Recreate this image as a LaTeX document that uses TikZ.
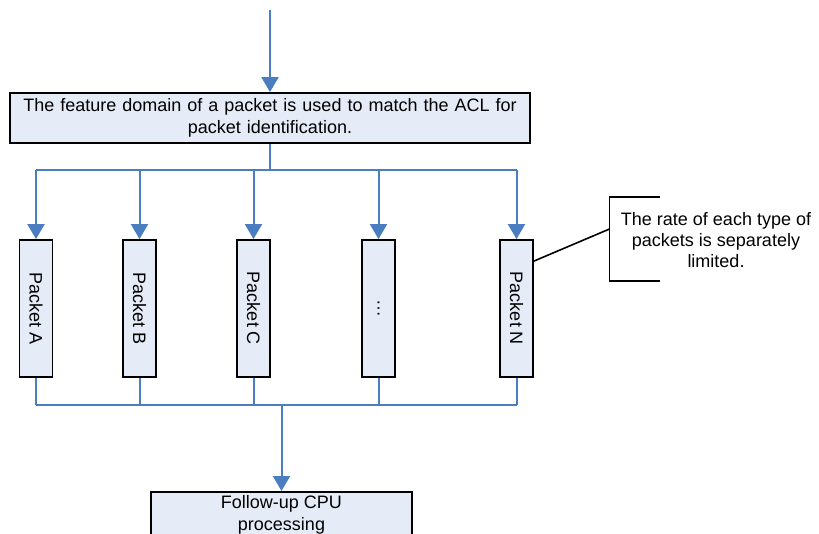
\documentclass[tikz,border=0pt]{standalone}
\usepackage{fontspec}
\setmainfont{Liberation Sans}
\usetikzlibrary{arrows.meta}
\definecolor{flowblue}{RGB}{74,126,193}
\definecolor{boxfill}{RGB}{230,236,247}
\begin{document}
\begin{tikzpicture}[x=1pt,y=-1pt,
  font=\fontsize{18}{22.5}\selectfont,
  box/.style={draw=black,line width=1.8pt,fill=boxfill,inner sep=0pt,align=center},
  pkt/.style={box,minimum width=33pt,minimum height=137pt},
  flow/.style={draw=flowblue,line width=2pt},
  arr/.style={flow,-{Triangle[length=15pt,width=17pt]}},
  callout/.style={draw=black,line width=1.6pt}]
\useasboundingbox (0,0) rectangle (819,534);

% ACL matching stage
\coordinate (src) at (270,10);
\node[box,minimum width=520pt,minimum height=50pt,text width=515pt] (acl) at (270,118)
  {The feature domain of a packet is used to match the ACL for\\packet identification.};
\draw[arr] (src) -- (acl.north);

% per-type packet queues
\node[pkt] (pA) at (36,308.5) {\rotatebox{-90}{Packet A}};
\node[pkt] (pB) at (139.5,308.5) {\rotatebox{-90}{Packet B}};
\node[pkt] (pC) at (253.5,308.5) {\rotatebox{-90}{Packet C}};
\node[pkt] (pD) at (378.5,308.5) {\rotatebox{-90}{…}};
\node[pkt] (pN) at (516.5,308.5) {\rotatebox{-90}{Packet N}};

% fan-out bus
\coordinate (busTop) at (0,170);
\draw[flow] (acl.south) -- (acl.south |- busTop);
\draw[flow] (pA.north |- busTop) -- (pN.north |- busTop);
\foreach \p in {pA,pB,pC,pD,pN}
  \draw[arr] (\p.north |- busTop) -- (\p.north);

% fan-in bus
\coordinate (busBot) at (0,405);
\draw[flow] (pA.south |- busBot) -- (pN.south |- busBot);
\foreach \p in {pA,pB,pC,pD,pN}
  \draw[flow] (\p.south) -- (\p.south |- busBot);

% CPU stage
\node[box,minimum width=261pt,minimum height=46pt,anchor=north] (cpu) at (281.5,491)
  {Follow-up CPU\\processing};
\draw[arr] (cpu.north |- busBot) -- (cpu.north);

% rate-limit note
\node[align=center,font=\fontsize{18}{21}\selectfont] (note) at (716,240)
  {The rate of each type of\\packets is separately\\limited.};
\coordinate (brTop) at (660,197);
\coordinate (brBot) at (660,281);
\coordinate (brMid) at (609.5,229);
\draw[callout] (brTop) -- (brMid |- brTop) -- (brMid |- brBot) -- (brBot);
\draw[line width=1.6pt] ([yshift=-22pt]pN.north east) -- (brMid);
\end{tikzpicture}
\end{document}
